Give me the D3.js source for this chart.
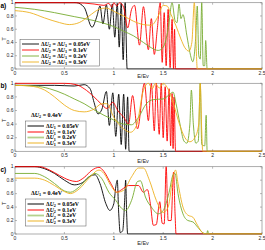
<!DOCTYPE html>
<html>
<head>
<meta charset="utf-8">
<script src="https://cdn.jsdelivr.net/npm/d3@7"></script>
<style>
  body { margin: 0; background: #fff; }
  svg { display: block; font-family: "Liberation Sans", Arial, sans-serif; }
</style>
</head>
<body>
<svg id="chart" width="265" height="250"></svg>
<script>
// tick values
const xTicks = [0, 0.5, 1, 1.5, 2, 2.5];
const yTicks = [0, 0.2, 0.4, 0.6, 0.8, 1];
const xTickLabels = ['0', '0.5', '1', '1.5', '2', '2.5'];
const yTickLabels = ['0', '0.2', '0.4', '0.6', '0.8', '1'];

// legend values
const aLegend = ['0.05eV', '0.1eV', '0.2eV', '0.3eV'];
const bLegend = ['0.05eV', '0.1eV', '0.2eV', '0.3eV'];
const cLegend = ['0.05eV', '0.1eV', '0.2eV', '0.3eV'];

// panel a) dU2 = dU1 [E, T]
const aBlack = [[0,1],[0.62,1],[0.7,0.93],[0.78,0.63],[0.83,0.8],[0.86,0.95],[0.89,0.68],[0.925,0.97],[0.955,0.6],[0.985,0.98],[1.01,0.48],[1.035,0.99],[1.055,0.33],[1.075,0.99],[1.095,0.14],[1.115,1],[1.135,0],[2.5,0]];
const aRed = [[0,1],[0.6,1],[0.8,0.98],[0.9,0.96],[0.95,0.99],[0.98,0.93],[1.0,1],[1.03,0.95],[1.06,1],[1.1,0.93],[1.14,0.62],[1.18,0.9],[1.21,0.96],[1.26,0.36],[1.3,0.94],[1.35,0.29],[1.38,0.76],[1.41,0.22],[1.44,0.6],[1.47,1],[1.49,0.1],[1.51,0.85],[1.53,0.05],[1.55,0.9],[1.57,0.02],[1.59,0.75],[1.605,0],[1.615,0.6],[1.625,0],[2.5,0]];
const aGreen = [[0,0.93],[0.2,0.9],[0.4,0.85],[0.6,0.79],[0.8,0.73],[0.9,0.69],[1.0,0.64],[1.1,0.57],[1.2,0.5],[1.3,0.4],[1.38,0.32],[1.45,0.28],[1.5,0.33],[1.55,0.6],[1.59,1],[1.62,0.73],[1.64,0.7],[1.66,0.98],[1.68,0.76],[1.7,0.82],[1.74,0.5],[1.77,0.25],[1.8,0.11],[1.83,0.5],[1.845,0.95],[1.86,0.2],[1.875,0.15],[1.89,1],[1.905,0.05],[1.92,0.05],[1.93,0.43],[1.945,0],[2.5,0]];
const aYellow = [[0,0.88],[0.15,0.85],[0.3,0.77],[0.45,0.7],[0.55,0.67],[0.65,0.7],[0.75,0.8],[0.85,0.9],[0.92,0.92],[1.0,0.87],[1.1,0.8],[1.2,0.72],[1.3,0.67],[1.38,0.66],[1.45,0.8],[1.5,0.96],[1.54,0.95],[1.58,0.82],[1.63,0.65],[1.68,0.45],[1.72,0.32],[1.76,0.27],[1.79,0.4],[1.815,1],[1.83,0.5],[1.845,0],[2.5,0]];

// panel b) dU2 = 0.4eV
const bBlack = [[0,0.97],[0.4,0.97],[0.6,0.96],[0.7,0.98],[0.76,0.92],[0.8,0.72],[0.84,0.55],[0.88,0.62],[0.925,0.88],[0.955,0.38],[0.99,0.86],[1.02,0.22],[1.05,0.84],[1.075,0.1],[1.1,0.84],[1.12,0.03],[1.14,0.8],[1.155,0],[2.5,0]];
const bRed = [[0,1],[0.5,1],[0.62,0.98],[0.7,0.92],[0.8,0.8],[0.87,0.7],[0.93,0.63],[0.99,0.72],[1.04,0.6],[1.1,0.5],[1.15,0.4],[1.19,0.82],[1.24,0.33],[1.31,1],[1.35,0.45],[1.38,1],[1.41,0.3],[1.43,1],[1.46,0.25],[1.48,1],[1.5,0.2],[1.52,0.95],[1.54,0.15],[1.56,0.92],[1.575,0.08],[1.59,0.85],[1.6,0.04],[1.61,0.8],[1.625,0],[2.5,0]];
const bGreen = [[0,0.97],[0.2,0.96],[0.35,0.92],[0.5,0.84],[0.6,0.77],[0.7,0.7],[0.8,0.61],[0.9,0.53],[1.0,0.46],[1.1,0.4],[1.18,0.39],[1.25,0.5],[1.33,0.7],[1.4,0.76],[1.5,0.77],[1.56,0.83],[1.6,0.87],[1.63,0.7],[1.67,0.4],[1.71,0.15],[1.74,0.12],[1.77,0.4],[1.785,0.9],[1.805,0.4],[1.83,0.12],[1.855,0.15],[1.875,1],[1.89,0.1],[1.92,0.08],[1.935,0.53],[1.945,0],[2.5,0]];
const bYellow = [[0,0.97],[0.15,0.96],[0.3,0.9],[0.4,0.8],[0.5,0.68],[0.6,0.6],[0.7,0.58],[0.8,0.62],[0.88,0.7],[0.93,0.7],[1.0,0.5],[1.1,0.33],[1.17,0.28],[1.23,0.38],[1.3,0.9],[1.35,1],[1.39,0.92],[1.42,1],[1.46,0.93],[1.5,1],[1.54,0.94],[1.6,0.72],[1.66,0.42],[1.72,0.2],[1.77,0.14],[1.82,0.2],[1.86,0.4],[1.875,1],[1.89,0.3],[1.9,0],[2.5,0]];

// panel c) dU1 = 0.4eV
const cBlack = [[0,1],[0.2,1],[0.3,0.97],[0.4,0.9],[0.5,0.8],[0.6,0.73],[0.68,0.76],[0.76,0.86],[0.81,0.88],[0.86,0.75],[0.92,0.45],[0.96,0.35],[1.0,0.45],[1.02,0.7],[1.035,0.8],[1.05,0.3],[1.065,0.02],[1.09,0.05],[1.11,0.5],[1.12,0.8],[1.13,0.3],[1.14,0],[2.5,0]];
const cRed = [[0,1],[0.25,1],[0.35,0.95],[0.45,0.87],[0.55,0.8],[0.62,0.78],[0.7,0.84],[0.78,0.95],[0.85,0.99],[0.9,0.93],[0.97,0.75],[1.03,0.62],[1.08,0.66],[1.15,0.72],[1.25,0.72],[1.3,0.62],[1.34,0.66],[1.37,0.45],[1.4,0.13],[1.43,0.14],[1.465,0.48],[1.49,0.16],[1.51,0.15],[1.53,1],[1.55,0.2],[1.58,0.2],[1.605,0.92],[1.62,0.3],[1.63,0],[2.5,0]];
const cGreen = [[0,0.9],[0.2,0.9],[0.3,0.85],[0.4,0.75],[0.5,0.64],[0.56,0.62],[0.65,0.7],[0.75,0.85],[0.81,0.9],[0.88,0.82],[0.95,0.62],[1.02,0.5],[1.08,0.38],[1.12,0.35],[1.18,0.5],[1.24,0.78],[1.27,0.79],[1.32,0.55],[1.38,0.4],[1.45,0.3],[1.5,0.35],[1.56,0.62],[1.6,0.88],[1.62,0.9],[1.65,0.6],[1.7,0.3],[1.75,0.2],[1.8,0.18],[1.85,0.1],[1.9,0.02],[1.94,0],[1.95,0.05],[1.96,0],[2.5,0]];
const cYellow = [[0,0.83],[0.2,0.83],[0.3,0.8],[0.4,0.72],[0.5,0.63],[0.56,0.6],[0.65,0.67],[0.75,0.83],[0.85,0.95],[0.9,0.9],[0.97,0.72],[1.03,0.62],[1.1,0.65],[1.18,0.85],[1.25,0.98],[1.3,0.98],[1.36,0.8],[1.43,0.5],[1.5,0.32],[1.55,0.4],[1.6,0.85],[1.625,0.95],[1.65,0.75],[1.7,0.4],[1.75,0.28],[1.8,0.25],[1.84,0.15],[1.88,0.05],[1.92,0],[2.5,0]];

const colors = ['#000000', '#ff0000', '#77ac30', '#edb120'];

const svg = d3.select('#chart');
const left = 15, right = 262;
const x = d3.scaleLinear().domain([0, 2.5]).range([left, right]);

// writes "ΔU" with subscript into a text element
function deltaU(text, sub) {
    text.append('tspan').text('Δ');
    text.append('tspan').attr('font-style', 'italic').text('U');
    text.append('tspan').attr('font-size', '4.2px').attr('dy', 1.3).text(sub);
    text.append('tspan').attr('dy', -1.3).text('\u00a0');
}

function drawPanel(cfg) {
    const y = d3.scaleLinear().domain([0, 1]).range([cfg.bottom, cfg.top]);
    const g = svg.append('g');

    // box
    g.append('rect')
        .attr('x', left).attr('y', cfg.top)
        .attr('width', right - left).attr('height', cfg.bottom - cfg.top)
        .attr('fill', '#fff').attr('stroke', '#8a8a8a').attr('stroke-width', 0.7);

    // ticks (inward, all four sides)
    xTicks.forEach(t => {
        g.append('line').attr('x1', x(t)).attr('x2', x(t)).attr('y1', cfg.bottom).attr('y2', cfg.bottom - 2)
            .attr('stroke', '#8a8a8a').attr('stroke-width', 0.6);
        g.append('line').attr('x1', x(t)).attr('x2', x(t)).attr('y1', cfg.top).attr('y2', cfg.top + 2)
            .attr('stroke', '#8a8a8a').attr('stroke-width', 0.6);
    });
    yTicks.forEach(t => {
        g.append('line').attr('x1', left).attr('x2', left + 2).attr('y1', y(t)).attr('y2', y(t))
            .attr('stroke', '#8a8a8a').attr('stroke-width', 0.6);
        g.append('line').attr('x1', right).attr('x2', right - 2).attr('y1', y(t)).attr('y2', y(t))
            .attr('stroke', '#8a8a8a').attr('stroke-width', 0.6);
    });

    g.selectAll('.xl').data(xTicks).join('text')
        .attr('x', d => x(d)).attr('y', cfg.bottom + 6)
        .attr('text-anchor', 'middle').attr('font-size', '5px').attr('fill', '#262626')
        .text((d, i) => xTickLabels[i]);
    g.selectAll('.yl').data(yTicks).join('text')
        .attr('x', left - 1.5).attr('y', d => y(d) + 1.7)
        .attr('text-anchor', 'end').attr('font-size', '5px').attr('fill', '#262626')
        .text((d, i) => yTickLabels[i]);

    g.append('text').attr('x', 143).attr('y', cfg.bottom + cfg.xlabelGap)
        .attr('text-anchor', 'middle').attr('font-size', '5.5px').attr('fill', '#262626').text('E/Ev');
    g.append('text').attr('transform', `translate(5.5,${(cfg.top + cfg.bottom) / 2 + 3}) rotate(-90)`)
        .attr('text-anchor', 'middle').attr('font-size', '6px').attr('fill', '#262626').text('T');
    g.append('text').attr('x', 0.5).attr('y', cfg.top + 5)
        .attr('font-size', '6.5px').attr('font-weight', 'bold').text(cfg.name);

    // curves
    const line = d3.line().x(d => x(d[0])).y(d => y(d[1])).curve(d3.curveMonotoneX);
    const clipId = 'clip' + cfg.name.replace(')', '');
    g.append('clipPath').attr('id', clipId).append('rect')
        .attr('x', left).attr('y', cfg.top - 1).attr('width', right - left).attr('height', cfg.bottom - cfg.top + 1.5);
    g.append('g').attr('clip-path', `url(#${clipId})`)
        .selectAll('path').data(cfg.series).join('path')
        .attr('d', line).attr('fill', 'none')
        .attr('stroke', (d, i) => colors[i]).attr('stroke-width', 0.9)
        .attr('stroke-linejoin', 'round');

    // legend
    const lg = cfg.legend;
    if (lg.title) {
        const t = g.append('text').attr('x', lg.titleX).attr('y', lg.titleY)
            .attr('font-family', '"Liberation Serif", "DejaVu Serif", serif')
            .attr('font-weight', 'bold').attr('font-size', '6px');
        deltaU(t, lg.titleSub);
        t.append('tspan').text('= 0.4eV');
    }
    g.append('rect').attr('x', lg.x0).attr('y', lg.y0).attr('width', lg.x1 - lg.x0).attr('height', lg.y1 - lg.y0)
        .attr('fill', '#fff').attr('stroke', '#555').attr('stroke-width', 0.5);
    lg.values.forEach((v, i) => {
        const ry = lg.rows[i];
        g.append('line').attr('x1', lg.lineX0).attr('x2', lg.lineX1).attr('y1', ry).attr('y2', ry)
            .attr('stroke', colors[i]).attr('stroke-width', lg.lineW).attr('stroke-opacity', lg.lineOpacity);
        const t = g.append('text').attr('x', lg.textX).attr('y', ry + 1.9)
            .attr('font-family', '"Liberation Serif", "DejaVu Serif", serif')
            .attr('font-weight', 'bold').attr('font-size', '5.8px');
        lg.subs.forEach(s => {
            deltaU(t, s);
            t.append('tspan').text('=\u00a0');
        });
        t.append('tspan').text(v);
    });
}

drawPanel({
    name: 'a)', top: 2.7, bottom: 69, xlabelGap: 8.5,
    series: [aBlack, aRed, aGreen, aYellow],
    legend: { x0: 20, x1: 99.5, y0: 39.5, y1: 66, lineX0: 22, lineX1: 39, textX: 41,
        rows: [44, 50, 56, 62], values: aLegend, subs: ['2', '1'], lineW: 0.9, lineOpacity: 1 }
});
drawPanel({
    name: 'b)', top: 83.3, bottom: 151.3, xlabelGap: 12,
    series: [bBlack, bRed, bGreen, bYellow],
    legend: { title: true, titleSub: '2', titleX: 31, titleY: 117, x0: 25.5, x1: 86, y0: 121, y1: 147,
        lineX0: 27.5, lineX1: 44, textX: 46, rows: [126, 132, 137.5, 143], values: bLegend, subs: ['1'],
        lineW: 1.8, lineOpacity: 0.55 }
});
drawPanel({
    name: 'c)', top: 166.7, bottom: 234, xlabelGap: 11,
    series: [cBlack, cRed, cGreen, cYellow],
    legend: { title: true, titleSub: '1', titleX: 31, titleY: 195, x0: 25.5, x1: 86, y0: 199, y1: 226,
        lineX0: 27.5, lineX1: 44, textX: 46, rows: [204, 210, 215.5, 221], values: cLegend, subs: ['2'],
        lineW: 1.8, lineOpacity: 0.55 }
});
</script>
</body>
</html>
